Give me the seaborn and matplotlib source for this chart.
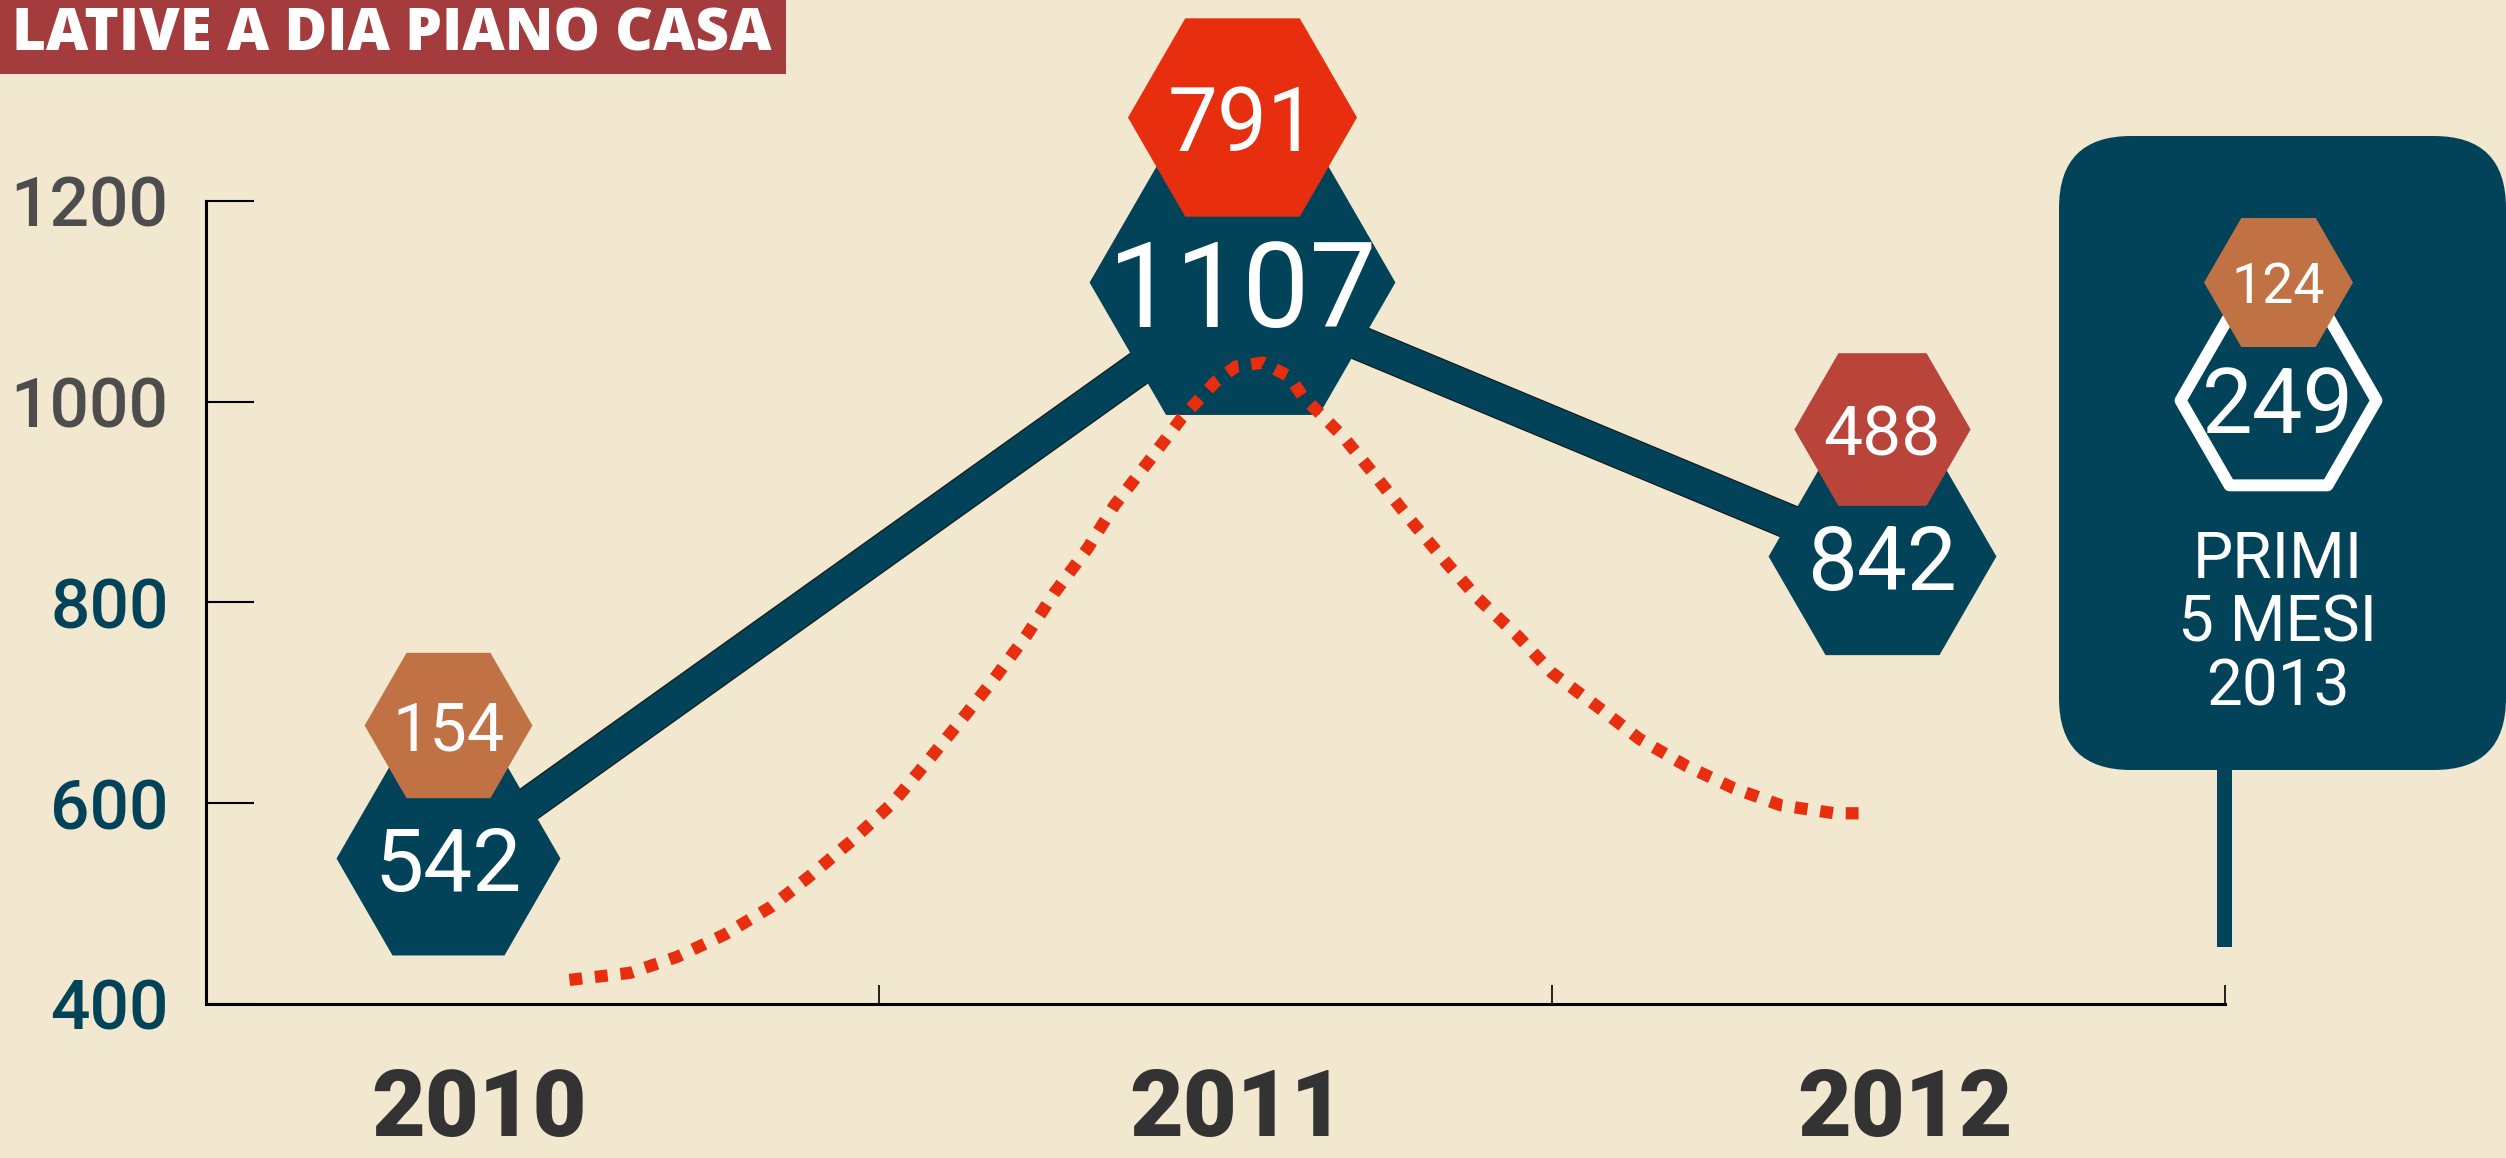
import seaborn as sns
import matplotlib.pyplot as plt
import matplotlib.patheffects as pe
from matplotlib.patches import FancyBboxPatch, Rectangle
from matplotlib.transforms import ScaledTranslation

# --- dati ---
anni = ['2010', '2011', '2012']
x_anni = [0.36, 1.54, 2.49]          # posizione dei punti sull'asse
totale = [542, 1107, 842]
parziale = [154, 791, 488]
totale_2013 = 249
parziale_2013 = 124
etichetta_2013 = ['PRIMI', '5 MESI', '2013']
titolo = 'LATIVE A DIA PIANO CASA'
y_ticks = [400, 600, 800, 1000, 1200]

# curva rossa puntinata
curva_x = [0.54, 0.63, 0.70, 0.77, 0.84, 0.90, 0.96, 1.02, 1.07, 1.12, 1.17, 1.22,
           1.26, 1.31, 1.35, 1.40, 1.45, 1.50, 1.53, 1.57, 1.61, 1.63, 1.69, 1.74,
           1.79, 1.84, 1.89, 1.95, 2.00, 2.07, 2.13, 2.20, 2.27, 2.34, 2.42, 2.47]
curva_y = [424, 431, 447, 469, 497, 529, 563, 600, 640, 681, 723, 768,
           809, 854, 897, 940, 984, 1020, 1035, 1039, 1025, 1005, 965, 924,
           882, 842, 804, 766, 730, 695, 664, 637, 615, 598, 590, 590]

# --- stile ---
BG = '#f2e7cf'
NAVY = '#02435a'
RED = '#e72e0e'
col_parziale = ['#c17245', '#e72e0e', '#b9443a']
col_ytick = [NAVY, NAVY, NAVY, '#4d4d4d', '#4d4d4d']
s_totale = [26000, 48500, 26900]
s_parziale = [14600, 27200, 16100]
dy_totale = [3, 12, 4]              # px
dy_parziale = [136, 177, 131]       # px
fs_totale = [63, 86, 64]
fs_parziale = [48, 64, 50]
dx_anni = [31, -5, 23]              # px

sns.set_style('white')
plt.rcParams['font.family'] = ['Roboto', 'DejaVu Sans']

W, H, DPI = 2506, 1158, 100
fig = plt.figure(figsize=(W / DPI, H / DPI), dpi=DPI, facecolor=BG)
ax = fig.add_axes([206 / W, (H - 1004) / H, 2019 / W, 803 / H])
ax.set_facecolor('none')


def shift(dx_px, dy_px):
    return ax.transData + ScaledTranslation(dx_px / DPI, dy_px / DPI, fig.dpi_scale_trans)


# linea principale
sns.lineplot(x=x_anni, y=totale, ax=ax, color=NAVY, linewidth=24, solid_capstyle='butt',
             zorder=2, clip_on=False,
             path_effects=[pe.Stroke(linewidth=25.5, foreground='#111111'), pe.Normal()])

# esagoni dei totali
for i in range(3):
    sns.scatterplot(x=[x_anni[i]], y=[totale[i]], ax=ax, marker='H', s=s_totale[i],
                    color=NAVY, linewidth=0, zorder=3, clip_on=False, legend=False,
                    transform=shift(0, dy_totale[i]))

# curva puntinata
sns.lineplot(x=curva_x, y=curva_y, ax=ax, sort=False, color=RED, linewidth=8.8,
             linestyle=(0, (1.05, 1.05)), dash_capstyle='butt', zorder=4, clip_on=False)

# esagoni dei parziali
for i in range(3):
    sns.scatterplot(x=[x_anni[i]], y=[totale[i]], ax=ax, marker='H', s=s_parziale[i],
                    color=col_parziale[i], linewidth=0, zorder=5, clip_on=False,
                    legend=False, transform=shift(0, dy_parziale[i]))

for i in range(3):
    ax.annotate(str(totale[i]), (x_anni[i], totale[i]),
                xytext=(0, dy_totale[i] * 0.72), textcoords='offset points',
                ha='center', va='center_baseline', fontsize=fs_totale[i],
                color='white', zorder=6, annotation_clip=False)
    ax.annotate(str(parziale[i]), (x_anni[i], totale[i]),
                xytext=(0, dy_parziale[i] * 0.72), textcoords='offset points',
                ha='center', va='center_baseline', fontsize=fs_parziale[i],
                color='white', zorder=6, annotation_clip=False)
    ax.annotate(anni[i], (x_anni[i], 400),
                xytext=(dx_anni[i] * 0.72, -109), textcoords='offset points',
                ha='center', va='bottom', fontsize=67, fontweight='black',
                color='#333333', annotation_clip=False)

# assi
ax.set_xlim(0, 3)
ax.set_ylim(400, 1200)
ax.set_xticks([1, 2, 3])
ax.set_xticklabels([])
ax.set_yticks(y_ticks)
ax.set_yticklabels([str(v) for v in y_ticks], fontsize=50, fontweight='medium')
for lab, c in zip(ax.get_yticklabels(), col_ytick):
    lab.set_color(c)
ax.tick_params(axis='y', left=True, direction='in', length=34.5, width=1.5,
               color='black', pad=27)
ax.tick_params(axis='x', bottom=True, direction='in', length=13.7, width=1.2,
               color='black')
for side in ['top', 'right']:
    ax.spines[side].set_visible(False)
for side in ['left', 'bottom']:
    ax.spines[side].set_color('black')
    ax.spines[side].set_linewidth(2.2)

# riquadro 2013
pax = fig.add_axes([2059 / W, (H - 947) / H, 447 / W, 811 / H])
pax.axis('off')
pax.add_patch(FancyBboxPatch((0, 0), 447, 634, boxstyle='round,pad=0,rounding_size=72',
                             fc=NAVY, ec='none', clip_on=False))
pax.add_patch(Rectangle((158, 620), 15, 191, fc=NAVY, ec='none', clip_on=False))
sns.scatterplot(x=[219], y=[264], ax=pax, marker='H', s=19900, facecolor=NAVY,
                edgecolor='white', linewidth=8.6, zorder=3, legend=False, clip_on=False)
sns.scatterplot(x=[219], y=[146], ax=pax, marker='H', s=11500, color=col_parziale[0],
                linewidth=0, zorder=4, legend=False, clip_on=False)
pax.text(219, 146, str(parziale_2013), ha='center', va='center_baseline', fontsize=40,
         color='white', zorder=5)
pax.text(219, 263, str(totale_2013), ha='center', va='center_baseline', fontsize=65,
         color='white', zorder=5)
for riga, yy in zip(etichetta_2013, [417, 481, 545]):
    pax.text(219, yy, riga, ha='center', va='center_baseline', fontsize=46,
             color='white', zorder=5)
pax.set_xlim(0, 447)
pax.set_ylim(811, 0)

# titolo
fig.add_artist(Rectangle((0, (H - 74) / H), 786 / W, 74 / H, transform=fig.transFigure,
                         fc='#a43b3c', ec='none'))
fig.text(772 / W, (H - 28) / H, titolo, ha='right', va='center_baseline', fontsize=42,
         fontweight='heavy', color='white', family=['Open Sans', 'DejaVu Sans'])

fig.savefig('out.png', dpi=DPI, facecolor=BG)
